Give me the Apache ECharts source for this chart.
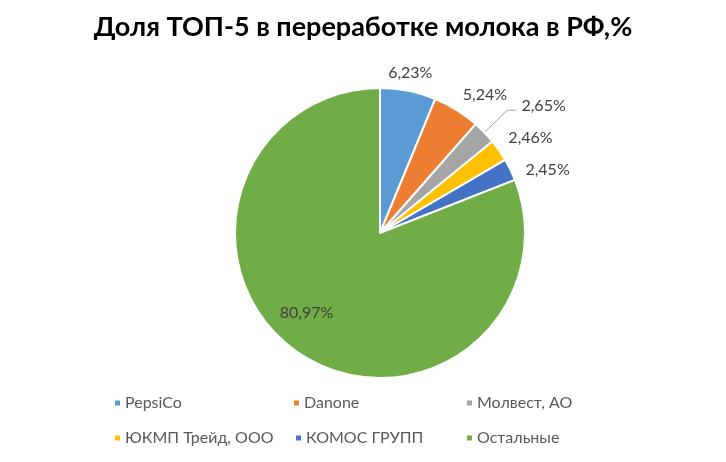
<!DOCTYPE html>
<html>
<head>
<meta charset="utf-8">
<script src="https://cdn.jsdelivr.net/npm/echarts@6/dist/echarts.min.js"></script>
<style>
  html, body { margin: 0; padding: 0; background: #fff; }
  #canva { width: 726px; height: 462px; }
</style>
</head>
<body>
<div id="canva"></div>
<script>
// ========== Data ==========
const categories = ['PepsiCo', 'Danone', 'Молвест, АО', 'ЮКМП Трейд, ООО', 'КОМОС ГРУПП', 'Остальные'];
const shares = [6.23, 5.24, 2.65, 2.46, 2.45, 80.97];

// Excel office palette
const colors = ['#5B9BD5', '#ED7D31', '#A5A5A5', '#FFC000', '#4472C4', '#70AD47'];

// legend placement (excel lays it out as a 3 x 2 grid)
const legendLeft = [108, 287, 460, 108, 289, 460];
const legendTop = [390, 390, 390, 425, 425, 425];

// small nudges so labels sit where excel puts them
const labelShift = [[-31, -8], [-8, -7], [0, -4], [-8, -7], [-3, 5], [-31, 17]];

const FONT = 'Lato, "Open Sans", sans-serif';

function fmt(v) {
    return v.toFixed(2).replace('.', ',') + '%';
}

// build series data
let pieData = [];
for (let i = 0; i < categories.length; i++) {
    let item = {
        name: categories[i],
        value: shares[i],
        itemStyle: { color: colors[i] }
    };
    if (i === 2) {
        // only this one gets a leader line
        item.labelLine = { show: true, length: 32, length2: 9 };
    }
    if (i === categories.length - 1) {
        item.label = { position: 'inside' };
    }
    pieData.push(item);
}

// one legend per item, placed like a grid
let legends = categories.map((c, i) => ({
    data: [c],
    left: legendLeft[i],
    top: legendTop[i],
    icon: 'rect',
    itemWidth: 7,
    itemHeight: 7,
    itemGap: 0,
    selectedMode: false,
    textStyle: {
        fontFamily: FONT,
        fontSize: 16,
        color: '#595959',
        padding: [0, 0, 0, -1]
    }
}));

var myChart = echarts.init(document.getElementById('canva'));
var option = {
    animation: false,
    title: {
        text: 'Доля ТОП-5 в переработке молока в РФ,%',
        left: 'center',
        top: 9,
        textStyle: {
            fontFamily: FONT,
            fontWeight: 'bold',
            fontSize: 27,
            color: '#000'
        }
    },
    legend: legends,
    series: [
        {
            type: 'pie',
            center: [380, 233],
            radius: 145,
            startAngle: 90,
            clockwise: true,
            avoidLabelOverlap: false,
            itemStyle: {
                borderColor: '#fff',
                borderWidth: 2
            },
            label: {
                show: true,
                position: 'outside',
                fontFamily: FONT,
                fontSize: 16,
                color: '#404040',
                formatter: p => fmt(p.value)
            },
            labelLine: {
                show: false,
                length: 10,
                length2: 4,
                lineStyle: { color: '#A6A6A6', width: 1 }
            },
            labelLayout: function (params) {
                let s = labelShift[params.dataIndex];
                return { dx: s[0], dy: s[1] };
            },
            data: pieData
        }
    ]
};
myChart.setOption(option);
</script>
</body>
</html>
